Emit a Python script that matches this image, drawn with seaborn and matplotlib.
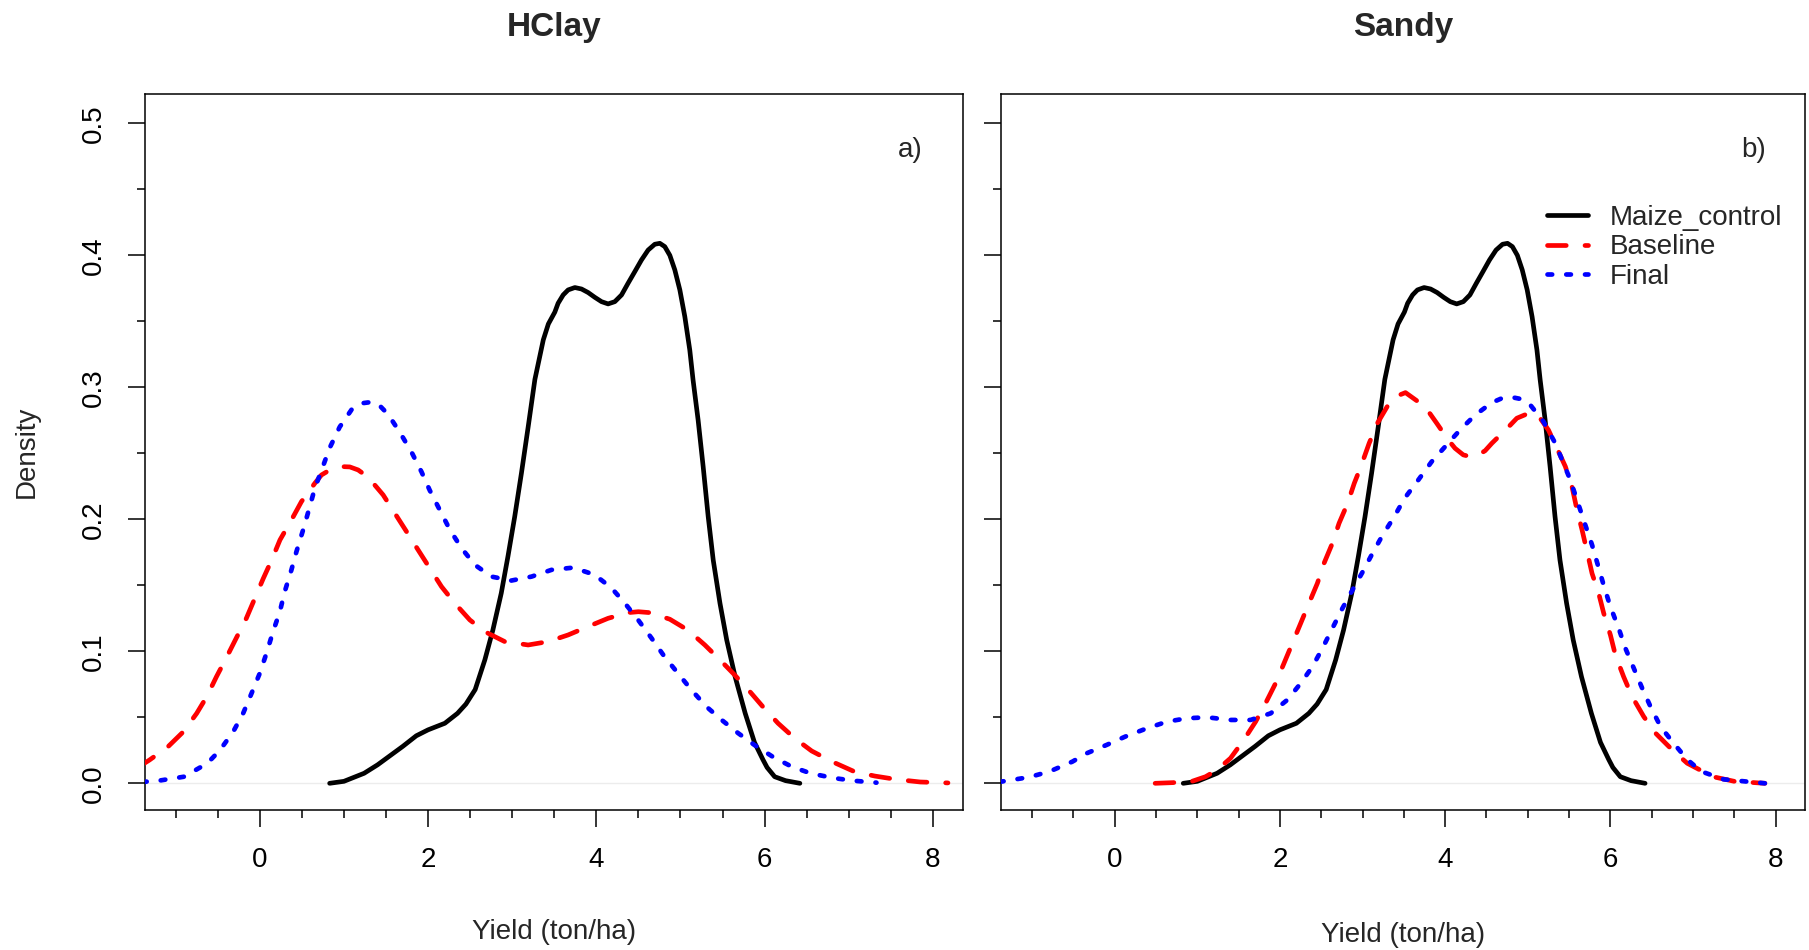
import numpy as np
import pandas as pd
import matplotlib
matplotlib.use("Agg")
import matplotlib.pyplot as plt
import seaborn as sns

# ---- density curves (yield in ton/ha, kernel density) ----
# Maize_control (same reference curve in both soils)
ctrl_x = [0.83, 1.0, 1.24, 1.40, 1.55, 1.70, 1.86, 2.0, 2.2, 2.35, 2.45, 2.56, 2.675,
          2.77, 2.87, 2.95, 3.03, 3.11, 3.19, 3.27, 3.37, 3.43, 3.507, 3.546, 3.606,
          3.665, 3.745, 3.824, 3.903, 3.982, 4.062, 4.14, 4.22, 4.30, 4.378, 4.458,
          4.537, 4.616, 4.695, 4.755, 4.814, 4.874, 4.933, 4.993, 5.052, 5.111, 5.15,
          5.21, 5.27, 5.33, 5.39, 5.47, 5.55, 5.65, 5.77, 5.88, 5.98, 6.03, 6.12, 6.25,
          6.42]
ctrl_y = [0.0, 0.0015, 0.0076, 0.014, 0.021, 0.028, 0.036, 0.0405, 0.0455, 0.053, 0.060,
          0.071, 0.0935, 0.116, 0.144, 0.172, 0.202, 0.235, 0.270, 0.306, 0.336, 0.348,
          0.357, 0.3637, 0.370, 0.3738, 0.3756, 0.3745, 0.3718, 0.3682, 0.3649, 0.3632,
          0.3649, 0.370, 0.3789, 0.3877, 0.3965, 0.404, 0.4084, 0.4091, 0.4066, 0.400,
          0.389, 0.3738, 0.3536, 0.3283, 0.3056, 0.2753, 0.240, 0.202, 0.169, 0.1364,
          0.1086, 0.0808, 0.053, 0.031, 0.018, 0.012, 0.005, 0.002, 0.0]

# HClay
hclay_base_x = [-1.45, -1.31, -1.09, -0.91, -0.75, -0.63, -0.515, -0.40, -0.28, -0.16,
                -0.06, 0.04, 0.14, 0.24, 0.376, 0.495, 0.654, 0.733, 0.832, 0.911, 0.99,
                1.07, 1.169, 1.288, 1.466, 1.605, 1.744, 1.882, 2.02, 2.16, 2.318, 2.496,
                2.675, 2.91, 3.19, 3.43, 3.665, 3.90, 4.14, 4.378, 4.50, 4.636, 4.874,
                5.09, 5.29, 5.47, 5.646, 5.825, 5.98, 6.16, 6.36, 6.56, 6.80, 7.066, 7.31,
                7.56, 7.85, 8.18]
hclay_base_y = [0.012, 0.0177, 0.0278, 0.039, 0.053, 0.0657, 0.0808, 0.0948, 0.110, 0.125,
                0.140, 0.155, 0.169, 0.1844, 0.1995, 0.2134, 0.2273, 0.2336, 0.2374,
                0.2389, 0.2399, 0.2397, 0.2374, 0.2319, 0.2185, 0.2046, 0.1907, 0.1768,
                0.163, 0.149, 0.1364, 0.1238, 0.1149, 0.1074, 0.1048, 0.1074, 0.1124,
                0.1187, 0.125, 0.1293, 0.130, 0.1293, 0.1243, 0.116, 0.1048, 0.0935,
                0.082, 0.0695, 0.058, 0.0455, 0.034, 0.0245, 0.0165, 0.0089, 0.0055,
                0.003, 0.001, 0.0003]
hclay_final_x = [-1.40, -1.20, -0.90, -0.623, -0.475, -0.317, -0.198, -0.099, 0.0, 0.079,
                 0.158, 0.238, 0.297, 0.376, 0.436, 0.515, 0.594, 0.654, 0.733, 0.83,
                 0.95, 1.09, 1.209, 1.308, 1.406, 1.525, 1.664, 1.803, 1.922, 2.02, 2.14,
                 2.26, 2.40, 2.556, 2.754, 2.99, 3.23, 3.467, 3.725, 3.98, 4.18, 4.34,
                 4.497, 4.656, 4.81, 4.97, 5.13, 5.31, 5.49, 5.686, 5.88, 6.10, 6.32,
                 6.55, 6.82, 7.05, 7.33]
hclay_final_y = [0.001, 0.002, 0.005, 0.0152, 0.025, 0.039, 0.053, 0.068, 0.0834, 0.0985,
                 0.115, 0.130, 0.1453, 0.1617, 0.1756, 0.192, 0.2096, 0.2235, 0.237,
                 0.254, 0.270, 0.283, 0.2879, 0.2887, 0.2874, 0.2795, 0.266, 0.251,
                 0.236, 0.222, 0.207, 0.192, 0.178, 0.1655, 0.1566, 0.1536, 0.1566,
                 0.1617, 0.1634, 0.158, 0.148, 0.1364, 0.1238, 0.110, 0.096, 0.0834,
                 0.0708, 0.058, 0.048, 0.038, 0.029, 0.020, 0.0127, 0.0075, 0.004, 0.002,
                 0.0005]

# Sandy
sandy_base_x = [0.49, 0.70, 0.926, 1.10, 1.239, 1.402, 1.564, 1.706, 1.827, 1.948, 2.05,
                2.15, 2.252, 2.352, 2.454, 2.534, 2.636, 2.716, 2.82, 2.90, 2.98, 3.08,
                3.18, 3.323, 3.42, 3.52, 3.756, 3.898, 4.039, 4.12, 4.22, 4.302, 4.383,
                4.484, 4.565, 4.767, 4.868, 4.99, 5.07, 5.13, 5.25, 5.354, 5.455, 5.535,
                5.596, 5.657, 5.718, 5.778, 5.858, 5.919, 6.0, 6.06, 6.16, 6.263, 6.404,
                6.546, 6.749, 6.93, 7.24, 7.5, 7.87]
sandy_base_y = [0.0, 0.0005, 0.0013, 0.005, 0.0101, 0.019, 0.0329, 0.0467, 0.0607, 0.0758,
                0.091, 0.106, 0.1213, 0.1364, 0.1516, 0.1667, 0.182, 0.197, 0.2122,
                0.2273, 0.240, 0.2576, 0.2728, 0.288, 0.2935, 0.2960, 0.2854, 0.2728,
                0.260, 0.2538, 0.2488, 0.2475, 0.248, 0.252, 0.2576, 0.270, 0.2766,
                0.2798, 0.2804, 0.2783, 0.2677, 0.2538, 0.240, 0.2248, 0.2071, 0.192,
                0.1755, 0.159, 0.144, 0.1289, 0.1124, 0.0973, 0.0808, 0.0657, 0.0505,
                0.038, 0.0253, 0.0152, 0.005, 0.0015, 0.0]
sandy_final_x = [-1.40, -1.04, -0.79, -0.512, -0.336, -0.10, 0.129, 0.392, 0.634, 0.877,
                 1.12, 1.402, 1.645, 1.888, 2.09, 2.252, 2.394, 2.515, 2.636, 2.757,
                 2.879, 3.0, 3.121, 3.243, 3.384, 3.51, 3.675, 3.837, 4.019, 4.18, 4.363,
                 4.565, 4.686, 4.808, 4.929, 5.03, 5.19, 5.333, 5.515, 5.676, 5.778,
                 5.919, 6.0, 6.10, 6.182, 6.283, 6.385, 6.486, 6.607, 6.749, 6.93, 7.1,
                 7.37, 7.87]
sandy_final_y = [0.001, 0.0046, 0.0089, 0.0164, 0.0228, 0.029, 0.0354, 0.0417, 0.0467,
                 0.0493, 0.050, 0.048, 0.048, 0.053, 0.0632, 0.0758, 0.0884, 0.1023,
                 0.1175, 0.1326, 0.1465, 0.160, 0.1743, 0.188, 0.202, 0.216, 0.2298,
                 0.2437, 0.2564, 0.2677, 0.279, 0.2884, 0.2917, 0.2925, 0.291, 0.2867,
                 0.274, 0.2576, 0.2298, 0.1995, 0.1806, 0.150, 0.1338, 0.1175, 0.1023,
                 0.0872, 0.072, 0.058, 0.043, 0.0316, 0.018, 0.009, 0.003, 0.0]

panels = ["HClay", "Sandy"]
panel_tags = ["a)", "b)"]
groups = ["Maize_control", "Baseline", "Final"]
x_major = [0, 2, 4, 6, 8]
y_major = [0.0, 0.1, 0.2, 0.3, 0.4, 0.5]

curves = {
    ("HClay", "Maize_control"): (ctrl_x, ctrl_y),
    ("HClay", "Baseline"): (hclay_base_x, hclay_base_y),
    ("HClay", "Final"): (hclay_final_x, hclay_final_y),
    ("Sandy", "Maize_control"): (ctrl_x, ctrl_y),
    ("Sandy", "Baseline"): (sandy_base_x, sandy_base_y),
    ("Sandy", "Final"): (sandy_final_x, sandy_final_y),
}
frames = []
for (soil, grp), (xs, ys) in curves.items():
    frames.append(pd.DataFrame({"soil": soil, "group": grp, "yield": xs, "density": ys}))
df = pd.concat(frames, ignore_index=True)

sns.set_style("white")
plt.rcParams["font.family"] = ["Liberation Sans", "DejaVu Sans"]
plt.rcParams["axes.linewidth"] = 1.1
plt.rcParams["axes.edgecolor"] = "black"

LW = 3.375
line_styles = {
    "Maize_control": dict(color="black", linestyle="-"),
    "Baseline": dict(color="red", linestyle=(0, (4, 4))),
    "Final": dict(color="blue", linestyle=(0, (1, 3))),
}

fig = plt.figure(figsize=(18.09, 9.5), dpi=100)
ax_left = fig.add_axes([0.0799, 0.1474, 0.4525, 0.7532])
ax_right = fig.add_axes([0.5536, 0.1474, 0.4444, 0.7532])
axes = [ax_left, ax_right]

for i, (ax, soil) in enumerate(zip(axes, panels)):
    ax.axhline(0, color="#ececec", lw=1.0, zorder=1)
    for grp in groups:
        sub = df[(df["soil"] == soil) & (df["group"] == grp)]
        sns.lineplot(data=sub, x="yield", y="density", ax=ax, label=grp,
                     lw=LW, solid_capstyle="round", dash_capstyle="round",
                     solid_joinstyle="round", dash_joinstyle="round",
                     legend=False, zorder=3, **line_styles[grp])

    ax.set_xlim(-1.37, 8.36)
    ax.set_ylim(-0.0202, 0.5219)
    ax.set_xticks(x_major)
    ax.set_xticklabels([str(v) for v in x_major])
    ax.set_xticks(np.arange(-1.0, 8.01, 0.5), minor=True)
    ax.set_yticks(y_major)
    ax.set_yticks(np.arange(0.05, 0.5, 0.1), minor=True)

    ax.tick_params(axis="both", which="both", bottom=True, left=True, top=False,
                   right=False, direction="out", width=1.1, colors="black")
    ax.tick_params(axis="both", which="major", length=12, labelsize=20)
    ax.tick_params(axis="both", which="minor", length=6)
    ax.tick_params(axis="x", which="major", pad=15)
    ax.tick_params(axis="y", which="major", pad=15)

    if i == 0:
        ax.set_yticklabels([f"{v:.1f}" for v in y_major])
        plt.setp(ax.get_yticklabels(), rotation=90, va="center", ha="right")
        ax.set_ylabel("Density", fontsize=20)
        ax.yaxis.set_label_coords(-0.128, 0.5)
    else:
        ax.set_yticklabels([])
        ax.set_ylabel("")

    ax.set_xlabel("Yield (ton/ha)", fontsize=20)
    ax.xaxis.set_label_coords(0.5, -0.153 if i == 0 else -0.156)
    ax.set_title(soil, fontsize=24, fontweight="bold", pad=42)
    ax.text(0.936, 0.922, panel_tags[i], transform=ax.transAxes, fontsize=20,
            ha="center", va="center")
    for sp in ax.spines.values():
        sp.set_visible(True)
        sp.set_color("black")
        sp.set_linewidth(1.1)

ax_right.legend(loc="upper left", bbox_to_anchor=(0.679, 0.846), frameon=False,
                fontsize=20, handlelength=1.45, handletextpad=0.8,
                labelspacing=0.13, borderpad=0, borderaxespad=0)

fig.savefig("out.png", dpi=100, facecolor="white")
